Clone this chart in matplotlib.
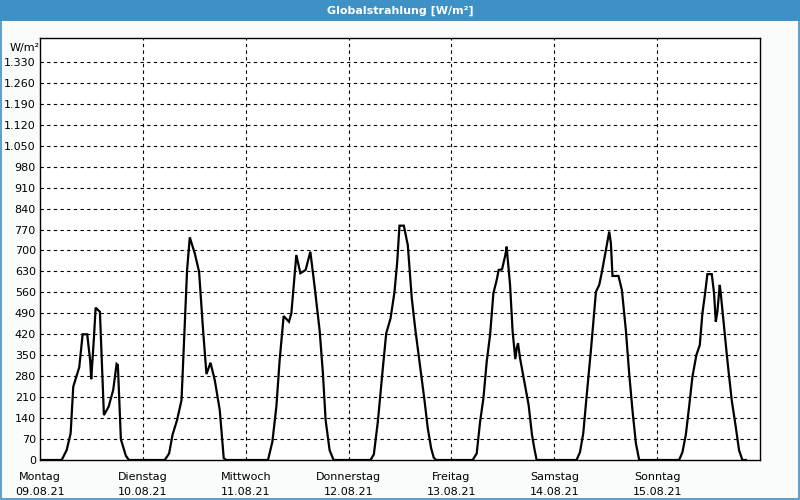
import matplotlib

matplotlib.use("Agg")
import matplotlib.pyplot as plt  # noqa: E402
from matplotlib.patches import Rectangle  # noqa: E402

# hours since Monday 00:00 and irradiance in W/m^2
hours = [
    0.00, 5.06, 6.22, 7.15, 7.76, 9.16, 9.95, 11.02, 11.72, 11.95, 12.58,
    12.98, 13.98, 14.91, 16.01, 17.08, 17.87, 18.17, 18.87, 20.04, 20.74,
    29.13, 30.13, 30.92, 31.99, 33.02, 33.55, 34.32, 34.95, 36.12, 37.12,
    38.05, 38.84, 39.78, 40.78, 41.94, 42.87, 43.50,
    53.20, 54.22, 55.15, 55.92, 56.85, 58.09, 58.65, 59.81, 60.75, 61.98,
    63.08, 64.08, 65.24, 66.01, 66.64, 67.57, 68.50,
    77.13, 77.90, 78.83, 79.99, 80.78, 81.79, 82.72, 83.35, 83.88, 84.89,
    85.82, 86.75, 87.54, 88.15, 88.94, 89.71, 90.48, 91.27, 91.87, 92.43,
    100.96, 101.90, 102.69, 103.46, 104.23, 105.02, 105.79, 106.56, 107.02,
    107.81, 108.58, 108.89, 109.12, 109.68, 110.28, 110.91, 111.22, 111.54,
    112.01, 113.01, 114.01, 114.80, 115.34, 115.88,
    125.20, 125.99, 126.76, 127.53, 128.55, 129.72, 130.49, 131.12, 132.05,
    132.82, 133.21, 133.58, 134.98, 135.77, 136.70, 137.47, 138.24, 139.04,
    139.81,
    149.13, 149.90, 150.69, 151.46, 152.23, 153.16, 153.95, 154.56, 155.19,
    155.72, 156.75, 157.28, 157.68, 158.05, 158.61, 158.84, 159.38, 160.38,
    161.40, 162.34, 163.11, 163.88, 164.74,
]
radiation = [
    0, 0, 33, 89, 245, 310, 420, 420, 330, 270, 407,
    509, 495, 150, 178, 234, 321, 317, 69, 14, 0,
    0, 22, 84, 134, 200, 379, 635, 744, 690, 629,
    434, 287, 325, 267, 167, 6, 0,
    0, 61, 178, 334, 481, 462, 490, 685, 624, 635,
    696, 579, 434, 290, 134, 33, 0,
    0, 19, 128, 306, 423, 473, 562, 662, 783, 783,
    718, 540, 440, 373, 284, 200, 106, 39, 8, 0,
    0, 22, 128, 206, 328, 418, 557, 601, 635,
    637, 685, 713, 674, 585, 429, 337, 373, 390,
    340, 262, 184, 84, 39, 0,
    0, 26, 89, 211, 367, 562, 585, 629, 702,
    763, 724, 615, 615, 568, 434, 290, 167, 56,
    0,
    0, 26, 84, 178, 278, 351, 384, 490, 557,
    621, 621, 557, 462, 495, 585, 557, 479, 334,
    200, 111, 33, 0, 0,
]

day_names = ["Montag", "Dienstag", "Mittwoch", "Donnerstag", "Freitag",
             "Samstag", "Sonntag"]
day_dates = ["09.08.21", "10.08.21", "11.08.21", "12.08.21", "13.08.21",
             "14.08.21", "15.08.21"]
y_ticks = list(range(0, 1331, 70))

C_BAR = "#3d91c5"
C_BG = "#fafcfb"

fig = plt.figure(figsize=(8, 5), dpi=100, facecolor=C_BG)

# window title bar + frame
fig.patches.append(Rectangle((0, 0.958), 1, 0.042, transform=fig.transFigure,
                             facecolor=C_BAR, edgecolor="none", zorder=0))
fig.patches.append(Rectangle((0.001, 0.002), 0.998, 0.997,
                             transform=fig.transFigure, facecolor="none",
                             edgecolor=C_BAR, lw=1.2, zorder=5))
fig.text(0.5, 0.979, "Globalstrahlung [W/m²]", color="white", fontsize=8,
         fontweight="bold", ha="center", va="center")

ax = fig.add_axes([0.05, 0.08, 0.90, 0.844])
ax.set_facecolor("white")
ax.plot(hours, radiation, color="black", lw=1.6, solid_joinstyle="miter",
        zorder=3)

ax.set_xlim(0, 168)
ax.set_ylim(0, 1410)

ax.set_yticks(y_ticks)
ax.set_yticklabels([f"{v:,}".replace(",", ".") for v in y_ticks], fontsize=8)
ax.set_xticks([24 * i for i in range(7)])
ax.set_xticklabels([f"{n}\n{d}" for n, d in zip(day_names, day_dates)],
                   fontsize=8, linespacing=1.55)
ax.tick_params(axis="y", length=0, pad=3)
ax.tick_params(axis="x", length=0, pad=9)

for v in y_ticks[1:]:
    ax.axhline(v, color="black", lw=0.8, ls=(0, (3, 3)), zorder=1)
for i in range(1, 7):
    ax.axvline(24 * i, color="black", lw=0.8, ls=(0, (3, 3)), zorder=1)

for s in ax.spines.values():
    s.set_color("black")
    s.set_linewidth(1.0)

fig.text(0.012, 0.905, "W/m²", fontsize=8, ha="left", va="center")

fig.savefig("out.png", dpi=100, facecolor=C_BG)
